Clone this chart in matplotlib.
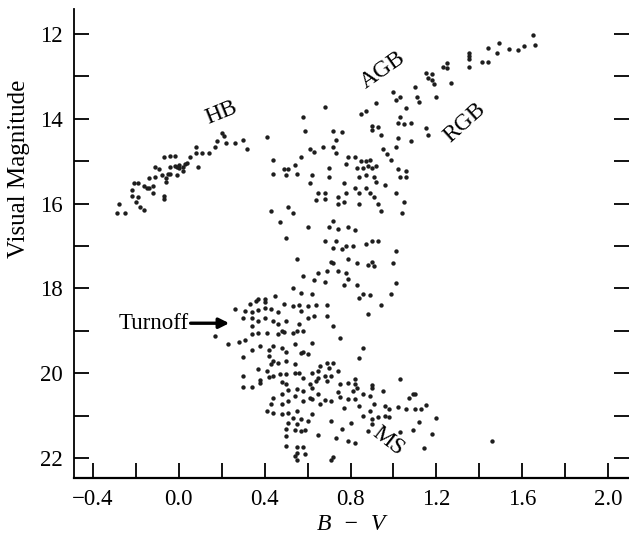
"""Colour-magnitude diagram of a globular cluster (B-V vs V)."""

import matplotlib
matplotlib.use("Agg")
import matplotlib.pyplot as plt
import numpy as np

# (B-V, V), grouped by branch
hb = [
    (-0.29, 16.23), (-0.25, 16.23), (-0.28, 16.00), (-0.20, 15.97), (-0.18, 16.09),
    (-0.16, 16.14), (-0.22, 15.83), (-0.19, 15.85), (-0.22, 15.69), (-0.21, 15.52),
    (-0.19, 15.52), (-0.16, 15.59), (-0.15, 15.64), (-0.14, 15.62), (-0.12, 15.59),
    (-0.14, 15.40), (-0.12, 15.76), (-0.11, 15.14), (-0.09, 15.19), (-0.08, 15.33),
    (-0.11, 15.38), (-0.07, 15.81), (-0.07, 15.90), (-0.06, 15.40), (-0.06, 15.50),
    (-0.05, 15.29), (-0.04, 15.31), (-0.07, 14.91), (-0.04, 14.88), (-0.02, 14.88),
    (-0.04, 15.14), (-0.02, 15.12), (-0.01, 15.14), (0.00, 15.10), (0.00, 15.17),
    (0.02, 15.14), (-0.01, 15.33), (0.02, 15.22), (0.03, 15.07), (0.04, 15.03),
    (0.05, 14.91), (0.08, 14.67), (0.08, 14.81), (0.09, 15.14), (0.11, 14.81),
    (0.14, 14.81), (0.17, 14.67), (0.18, 14.53), (0.20, 14.34), (0.21, 14.41),
    (0.22, 14.58), (0.26, 14.58), (0.30, 14.51), (0.32, 14.72),
]

gap = [
    (0.41, 14.43), (0.44, 14.96), (0.44, 15.31), (0.49, 15.19), (0.51, 15.19),
    (0.43, 16.18), (0.47, 16.44), (0.51, 16.07), (0.50, 16.82), (0.53, 16.23),
    (0.60, 16.56), (0.55, 17.30),
]

giants = [
    (1.65, 12.02), (1.66, 12.26), (1.61, 12.28), (1.58, 12.38), (1.54, 12.35),
    (1.49, 12.21), (1.48, 12.45), (1.44, 12.33), (1.44, 12.66), (1.41, 12.66),
    (1.35, 12.45), (1.35, 12.52), (1.35, 12.59), (1.35, 12.78), (1.25, 12.69),
    (1.25, 12.80), (1.23, 12.78), (1.27, 13.16), (1.15, 12.92), (1.18, 12.95),
    (1.16, 13.04), (1.18, 13.08), (1.19, 13.18), (1.10, 13.25), (1.00, 13.37),
    (1.03, 13.49), (1.01, 13.56), (1.11, 13.49), (1.12, 13.61), (1.20, 13.49),
    (1.06, 13.75), (0.92, 13.63), (0.87, 13.82), (0.85, 13.89), (0.68, 13.73),
    (0.58, 13.96), (0.59, 14.29), (1.03, 13.96), (1.02, 14.10), (1.05, 14.13),
    (1.08, 14.10), (1.15, 14.22), (1.16, 14.39), (0.90, 14.17), (0.93, 14.20),
    (0.90, 14.27), (0.94, 14.39), (0.72, 14.29), (0.76, 14.32), (1.02, 14.46),
    (0.73, 14.51), (0.61, 14.70), (0.63, 14.79), (0.67, 14.67), (0.72, 14.67),
    (0.73, 14.81), (0.57, 14.91), (0.54, 15.10), (0.79, 14.91), (0.82, 14.91),
    (0.78, 15.07), (0.85, 15.00), (0.87, 15.00), (0.89, 14.96), (0.83, 15.17),
    (0.86, 15.17), (0.88, 15.12), (0.90, 15.17), (0.92, 15.12), (0.95, 14.70),
    (0.97, 14.84), (0.99, 14.96), (1.01, 14.67), (1.08, 14.53), (1.02, 15.19),
    (1.06, 15.22),
    (0.50, 15.33), (0.55, 15.29), (0.62, 15.33), (0.70, 15.17), (0.70, 15.38),
    (0.61, 15.52), (0.84, 15.36), (0.87, 15.33), (0.91, 15.36), (0.92, 15.50),
    (0.77, 15.52), (0.96, 15.57), (1.03, 15.36), (1.06, 15.38), (1.01, 15.74),
    (1.05, 15.97), (1.04, 16.23), (0.82, 15.64), (0.87, 15.64), (0.84, 15.76),
    (0.89, 15.76), (0.91, 15.85), (0.93, 16.00), (0.94, 16.18), (0.84, 16.02),
    (0.78, 15.76), (0.74, 15.85), (0.77, 15.97), (0.74, 16.00), (0.65, 15.76),
    (0.68, 15.74), (0.68, 15.90), (0.64, 15.92), (0.72, 16.40), (0.70, 16.54),
    (0.74, 16.59), (0.79, 16.54), (0.82, 16.61), (0.68, 16.87), (0.73, 16.87),
    (0.72, 17.04), (0.76, 17.08), (0.78, 17.01), (0.81, 17.01), (0.87, 16.96),
    (0.90, 16.87), (0.93, 16.89), (1.01, 17.11), (1.00, 17.41), (1.01, 17.86),
    (0.72, 17.41), (0.79, 17.30), (0.83, 17.39), (0.88, 17.44), (0.91, 17.48),
    (0.90, 17.37), (0.71, 17.37), (0.65, 17.63), (0.69, 17.60), (0.74, 17.58),
    (0.78, 17.63), (0.58, 17.70), (0.63, 17.79), (0.68, 17.84), (0.79, 17.77),
    (0.83, 17.91), (0.77, 17.93), (0.53, 18.00), (0.57, 18.10), (0.62, 18.12),
    (0.45, 18.17), (0.37, 18.24), (0.40, 18.24), (0.86, 18.12), (0.89, 18.15),
    (0.99, 18.12), (0.84, 18.22), (0.94, 18.38), (0.88, 18.60),
]

turnoff = [
    (0.26, 18.48), (0.33, 18.36), (0.36, 18.29), (0.40, 18.31), (0.64, 18.38),
    (0.60, 18.41), (0.56, 18.38), (0.49, 18.36), (0.46, 18.55), (0.43, 18.48),
    (0.40, 18.45), (0.37, 18.50), (0.34, 18.55), (0.31, 18.52), (0.30, 18.69),
    (0.34, 18.69), (0.37, 18.76), (0.40, 18.69), (0.44, 18.76), (0.46, 18.83),
    (0.50, 18.76), (0.56, 18.83), (0.60, 18.69), (0.63, 18.64), (0.69, 18.38),
    (0.69, 18.64), (0.72, 18.88), (0.75, 19.16), (0.34, 18.88), (0.34, 19.07),
    (0.37, 19.04), (0.41, 19.04), (0.46, 19.07), (0.49, 19.02), (0.55, 19.00),
    (0.58, 19.00), (0.17, 19.12), (0.23, 19.30), (0.28, 19.26), (0.31, 19.21),
    (0.34, 19.45), (0.38, 19.35), (0.42, 19.45), (0.44, 19.35), (0.48, 19.40),
    (0.50, 19.49), (0.54, 19.30), (0.58, 19.49), (0.62, 19.28), (0.53, 18.41),
    (0.57, 18.52), (0.53, 19.04), (0.48, 19.00), (0.86, 19.40), (0.84, 19.64),
]

main_seq = [
    (0.30, 19.61), (0.42, 19.59), (0.44, 19.71), (0.50, 19.71), (0.46, 19.75),
    (0.37, 19.90), (0.30, 20.06), (0.38, 20.16), (0.42, 20.09), (0.47, 20.01),
    (0.50, 20.01), (0.54, 19.99), (0.30, 20.32), (0.34, 20.32), (0.48, 20.20),
    (0.51, 20.39), (0.55, 20.37), (0.58, 20.42), (0.62, 19.99), (0.65, 19.94),
    (0.66, 19.82), (0.69, 19.75), (0.72, 19.75), (0.70, 19.87), (0.74, 19.94),
    (0.71, 20.06), (0.68, 20.06), (0.65, 20.11), (0.64, 20.18), (0.62, 20.35),
    (0.69, 20.18), (0.75, 20.25), (0.79, 20.23), (0.82, 20.13), (0.83, 20.35),
    (0.86, 20.49), (0.89, 20.53), (0.90, 20.35), (0.54, 20.53), (0.58, 20.65),
    (0.44, 20.58), (0.48, 20.72), (0.51, 20.65), (0.62, 20.61), (0.66, 20.72),
    (0.71, 20.65), (0.75, 20.56), (0.79, 20.61), (0.84, 20.77), (0.43, 19.78),
    (0.54, 19.78), (0.57, 19.52), (0.60, 19.54), (0.41, 19.94), (0.44, 20.06),
    (0.38, 20.23), (0.50, 20.25), (0.56, 19.99), (0.58, 20.11), (0.61, 20.25),
    (0.48, 20.49), (0.43, 20.72), (0.61, 20.58), (0.65, 20.49), (0.68, 20.63),
    (0.74, 20.44), (0.81, 20.42), (0.82, 20.25), (0.82, 20.61), (0.41, 20.89),
    (0.44, 20.94), (0.48, 20.96), (0.51, 20.94), (0.55, 20.89), (0.62, 20.96),
    (0.53, 21.05), (0.57, 21.08), (0.60, 21.13), (0.51, 21.17), (0.55, 21.20),
    (0.50, 21.31), (0.54, 21.34), (0.57, 21.36), (0.59, 21.34), (0.71, 21.13),
    (0.77, 20.82), (0.80, 21.17), (0.76, 21.31), (0.65, 21.46), (0.73, 21.53),
    (0.79, 21.60), (0.82, 21.65), (0.50, 21.48), (0.50, 21.72), (0.55, 21.74),
    (0.58, 21.74), (0.55, 21.88), (0.59, 21.91), (0.54, 21.95), (0.72, 21.98),
    (0.90, 20.27), (0.95, 20.42), (1.03, 20.13), (1.09, 20.49), (1.10, 20.49),
    (1.07, 20.58), (1.15, 20.75), (1.10, 20.84), (1.13, 20.84), (1.06, 20.84),
    (1.02, 20.79), (0.98, 20.84), (0.96, 20.77), (0.91, 20.72), (0.89, 20.89),
    (0.93, 21.03), (0.96, 21.01), (0.98, 21.03), (0.90, 21.08), (0.86, 21.01),
    (0.90, 21.20), (0.88, 21.36), (1.12, 21.15), (1.20, 21.05), (1.09, 21.34),
    (1.03, 21.39), (1.18, 21.43), (1.14, 21.76), (1.46, 21.60), (0.55, 22.05),
    (0.71, 22.05),
]

x_major = [-0.4, 0.0, 0.4, 0.8, 1.2, 1.6, 2.0]
x_labels = ["\u22120.4", "0.0", "0.4", "0.8", "1.2", "1.6", "2.0"]
y_major = [12, 14, 16, 18, 20, 22]

# branch labels: text, (B-V, V), rotation
branch_labels = [
    ("HB", (0.20, 13.86), 22),
    ("AGB", (0.95, 12.85), 35),
    ("RGB", (1.33, 14.08), 42),
    ("MS", (0.975, 21.60), -38),
]

plt.rcParams["font.family"] = ["Liberation Serif", "DejaVu Serif"]

fig = plt.figure(figsize=(6.29, 5.37), dpi=100)
ax = fig.add_axes([73.6 / 629, 59 / 537, 555.4 / 629, 469 / 537])

pts = np.array(hb + gap + giants + turnoff + main_seq)
ax.scatter(pts[:, 0], pts[:, 1], s=10, color="#1e1e1e", linewidths=0)

ax.set_xlim(-0.49, 2.097)
ax.set_ylim(22.47, 11.41)

ax.set_xticks(x_major)
ax.set_xticklabels(x_labels)
ax.set_xticks(np.arange(-0.2, 2.0, 0.4), minor=True)
ax.set_yticks(y_major)
ax.set_yticks(np.arange(13, 22, 2), minor=True)

ax.tick_params(which="both", direction="in", length=11, width=1.3,
               left=True, right=True, top=False, bottom=True,
               labelsize=16.5, pad=8)
for side in ("top", "right"):
    ax.spines[side].set_visible(False)
ax.spines["left"].set_linewidth(1.3)
ax.spines["bottom"].set_linewidth(1.6)

ax.set_xlabel("B  \u2212  V", fontsize=17, fontstyle="italic", labelpad=3)
ax.set_ylabel("Visual Magnitude", fontsize=18)
ax.yaxis.set_label_coords(-0.078, 0.66)

for text, (bv, v), rot in branch_labels:
    ax.text(bv, v, text, fontsize=17, rotation=rot, ha="center", va="center")

ax.annotate("", xy=(0.235, 18.82), xytext=(0.055, 18.82),
            arrowprops=dict(arrowstyle="-|>", lw=2.4, color="black",
                            mutation_scale=15, shrinkA=0, shrinkB=0))
ax.text(0.045, 18.82, "Turnoff", fontsize=16.5, ha="right", va="center")

fig.savefig("out.png", dpi=100)
